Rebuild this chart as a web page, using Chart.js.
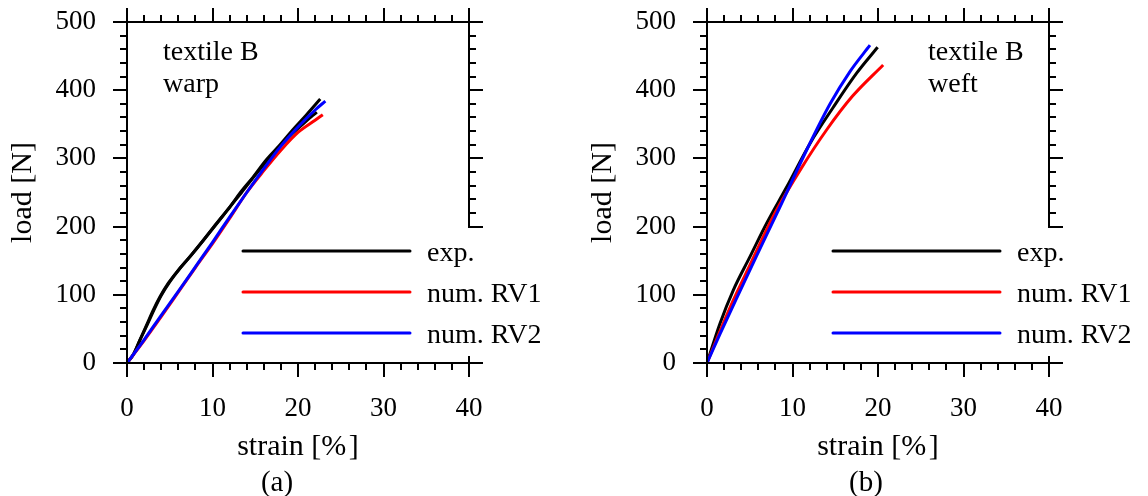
<!DOCTYPE html>
<html>
<head>
<meta charset="utf-8">
<script src="https://cdn.jsdelivr.net/npm/chart.js@4.4.1/dist/chart.umd.min.js"></script>
<style>
    html, body { margin: 0; padding: 0; background: #fff; }
    #page { position: relative; width: 1148px; height: 496px; overflow: hidden; }
    .panel { position: absolute; top: 0; width: 568px; height: 496px; }
    .caption {
        position: absolute; top: 464px; transform: translateX(-50%);
        font: 29px "Liberation Serif", "Times New Roman", serif; line-height: 34px; color: #000;
    }
</style>
</head>
<body>
<div id="page">
    <div class="panel" style="left:0"><canvas id="chartWarp" width="568" height="496"></canvas></div>
    <div class="panel" style="left:580px"><canvas id="chartWeft" width="568" height="496"></canvas></div>
    <div class="caption" style="left:277px">(a)</div>
    <div class="caption" style="left:866px">(b)</div>
</div>
<script>
// ===== axis ticks =====
const strainTicks = [0, 10, 20, 30, 40];
const loadTicks = [0, 100, 200, 300, 400, 500];
const legendLabels = ["exp.", "num. RV1", "num. RV2"];

// ===== textile B, warp direction =====
const warpExpStrainA = [0, 0.74, 1.52, 2.3, 3.08, 3.86, 4.83, 6.0, 7.37, 8.93, 10.49, 12.05, 13.2, 14.77, 16.3, 17.9, 19.4, 21.0, 22.6];
const warpExpLoadA   = [0, 12, 34, 56, 78, 97, 117, 136, 156, 180, 205, 229, 249, 273, 298, 320, 342, 364, 387];
const warpExpStrainB = [0, 0.8, 1.6, 2.4, 3.2, 4.0, 5.0, 6.2, 7.5, 9.0, 10.6, 12.1, 13.4, 14.9, 16.4, 17.9, 19.4, 20.8, 22.2];
const warpExpLoadB   = [0, 14, 36, 57, 79, 99, 119, 139, 158, 181, 206, 230, 250, 274, 297, 318, 337, 353, 368];
const warpRv1Strain  = [0, 2, 4, 6, 8, 10, 12, 14, 16, 18, 20, 22, 22.9];
const warpRv1Load    = [0, 33, 68, 104, 140, 175, 212, 250, 282, 312, 338, 356, 364];
const warpRv2Strain  = [0, 2, 4, 6, 8, 10, 12, 14, 16, 18, 20, 22, 23.2];
const warpRv2Load    = [0, 34, 70, 105, 141, 177, 214, 250, 285, 318, 346, 371, 384];

// ===== textile B, weft direction =====
const weftExpStrain = [0, 1.52, 3.08, 5.03, 6.98, 9.32, 12.05, 14.77, 17.5, 19.96];
const weftExpLoad   = [0, 58, 107, 156, 205, 258, 322, 375, 425, 463];
const weftRv1Strain = [0, 1.5, 3, 5, 8, 11, 14, 17, 20.6];
const weftRv1Load   = [0, 46, 90, 143, 221, 285, 342, 391, 437];
const weftRv2Strain = [0, 1.5, 3.5, 5.8, 8.5, 11.8, 14.4, 16.7, 19.06];
const weftRv2Load   = [0, 42, 96, 157, 228, 316, 380, 427, 466];

const colors = { exp: "#000000", rv1: "#ff0000", rv2: "#0000ff" };
const serif = "'Liberation Serif', 'Times New Roman', serif";

Chart.defaults.font.family = serif;
Chart.defaults.color = "#000";

function points(xs, ys) {
    return xs.map((x, i) => ({ x: x, y: ys[i] }));
}

// order: lower numbers are painted on top (RV2 over RV1 over exp.)
function curve(label, color, xs, ys) {
    return {
        label: label,
        data: points(xs, ys),
        borderColor: color,
        borderWidth: 3,
        pointRadius: 0,
        showLine: true,
        fill: false,
        order: legendLabels.length - legendLabels.indexOf(label),
        cubicInterpolationMode: "monotone"
    };
}

// frame box with outward major / minor ticks on all four sides
const frameTicks = {
    id: "frameTicks",
    afterDatasetsDraw(chart) {
        const { ctx, chartArea: a, scales: { x, y } } = chart;
        ctx.save();
        ctx.strokeStyle = "#000";
        ctx.lineWidth = 2;
        ctx.strokeRect(a.left, a.top, a.right - a.left, a.bottom - a.top);
        ctx.beginPath();
        const xStep = (strainTicks[1] - strainTicks[0]) / 5;
        for (let v = strainTicks[0]; v <= strainTicks[strainTicks.length - 1] + 1e-9; v += xStep) {
            const px = Math.round(x.getPixelForValue(v));
            const len = strainTicks.some(t => Math.abs(t - v) < 1e-6) ? 14 : 7;
            ctx.moveTo(px, a.bottom); ctx.lineTo(px, a.bottom + len);
            ctx.moveTo(px, a.top); ctx.lineTo(px, a.top - len);
        }
        const yStep = (loadTicks[1] - loadTicks[0]) / 5;
        for (let v = loadTicks[0]; v <= loadTicks[loadTicks.length - 1] + 1e-9; v += yStep) {
            const py = Math.round(y.getPixelForValue(v));
            const len = loadTicks.some(t => Math.abs(t - v) < 1e-6) ? 14 : 7;
            ctx.moveTo(a.left, py); ctx.lineTo(a.left - len, py);
            ctx.moveTo(a.right, py); ctx.lineTo(a.right + len, py);
        }
        ctx.stroke();
        ctx.restore();
    }
};

// legend in the lower right corner plus the specimen note
const panelText = {
    id: "panelText",
    afterDraw(chart, args, opts) {
        const { ctx, chartArea: a } = chart;
        ctx.save();
        ctx.font = "28px " + serif;
        ctx.fillStyle = "#000";
        ctx.textBaseline = "alphabetic";
        opts.note.forEach((line, i) => {
            ctx.fillText(line, a.left + opts.noteX, a.top + 38 + i * 32);
        });

        const x0 = a.left + opts.legendX;
        const x1 = x0 + 167;
        ctx.fillStyle = "#fff";
        ctx.fillRect(x0 - 8, a.top + 206, 330, 128);

        legendLabels.forEach((label, i) => {
            const ds = chart.data.datasets.find(d => d.label === label);
            const ly = a.top + 229 + i * 41;
            ctx.strokeStyle = ds.borderColor;
            ctx.lineWidth = 3;
            ctx.lineCap = "round";
            ctx.beginPath();
            ctx.moveTo(x0, ly);
            ctx.lineTo(x1, ly);
            ctx.stroke();
            ctx.fillStyle = "#000";
            ctx.fillText(label, x1 + 17, ly + 10);
        });
        ctx.restore();
    }
};

function makePanel(canvasId, datasets, note, noteX, legendX) {
    return new Chart(document.getElementById(canvasId), {
        type: "scatter",
        data: { datasets: datasets },
        options: {
            responsive: false,
            animation: false,
            layout: { padding: { left: 0, right: 99, top: 22, bottom: 0 } },
            plugins: {
                legend: { display: false },
                tooltip: { enabled: false },
                panelText: { note: note, noteX: noteX, legendX: legendX }
            },
            scales: {
                x: {
                    type: "linear",
                    min: strainTicks[0],
                    max: strainTicks[strainTicks.length - 1],
                    afterBuildTicks: s => { s.ticks = strainTicks.map(v => ({ value: v })); },
                    afterFit: s => { s.height = 133; s.paddingLeft = 0; s.paddingRight = 0; },
                    grid: { display: false, drawTicks: false },
                    border: { display: false },
                    ticks: { padding: 30, font: { size: 27 }, maxRotation: 0, autoSkip: false },
                    title: { display: true, text: "strain [%\u200a]", font: { size: 30 }, padding: { top: 0, bottom: 31 } }
                },
                y: {
                    type: "linear",
                    min: loadTicks[0],
                    max: loadTicks[loadTicks.length - 1],
                    afterBuildTicks: s => { s.ticks = loadTicks.map(v => ({ value: v })); },
                    afterFit: s => { s.width = 127; s.paddingTop = 0; s.paddingBottom = 0; },
                    grid: { display: false, drawTicks: false },
                    border: { display: false },
                    ticks: { padding: 31, font: { size: 27 }, autoSkip: false },
                    title: { display: true, text: "load [N]", font: { size: 30 }, padding: { top: 5, bottom: 0 } }
                }
            }
        },
        plugins: [frameTicks, panelText]
    });
}

makePanel("chartWarp", [
    curve(legendLabels[0], colors.exp, warpExpStrainA, warpExpLoadA),
    curve(legendLabels[0], colors.exp, warpExpStrainB, warpExpLoadB),
    curve(legendLabels[1], colors.rv1, warpRv1Strain, warpRv1Load),
    curve(legendLabels[2], colors.rv2, warpRv2Strain, warpRv2Load)
], ["textile B", "warp"], 36, 116);

makePanel("chartWeft", [
    curve(legendLabels[0], colors.exp, weftExpStrain, weftExpLoad),
    curve(legendLabels[1], colors.rv1, weftRv1Strain, weftRv1Load),
    curve(legendLabels[2], colors.rv2, weftRv2Strain, weftRv2Load)
], ["textile B", "weft"], 221, 126);
</script>
</body>
</html>
